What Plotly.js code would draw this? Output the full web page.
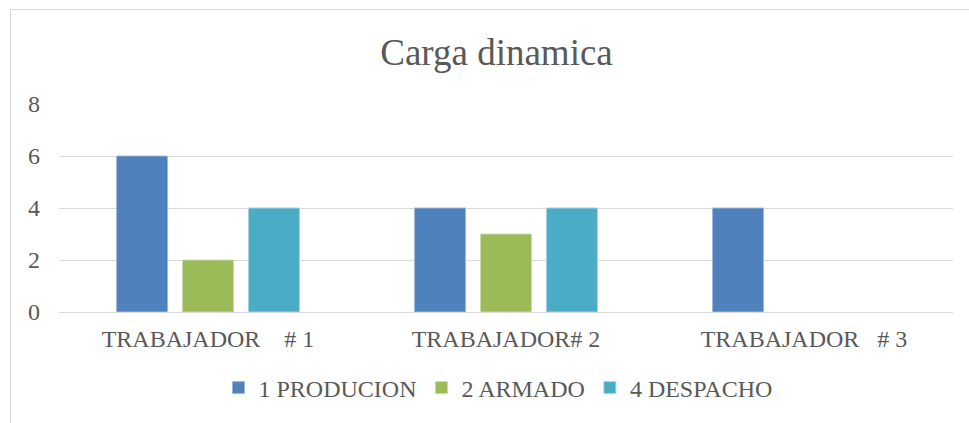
<!DOCTYPE html>
<html>
<head>
<meta charset="utf-8">
<script src="https://cdn.plot.ly/plotly-3.0.1.min.js"></script>
<style>html,body{margin:0;padding:0;background:#fff;}#chart{width:969px;height:423px;}</style>
</head>
<body>
<div id="chart"></div>
<script>
var categories = ["TRABAJADOR\u00a0\u00a0\u00a0\u00a0# 1", "TRABAJADOR# 2", "TRABAJADOR\u00a0\u00a0\u00a0# 3"];
var seriesNames = ["1 PRODUCION", "2 ARMADO", "4 DESPACHO"];
var produccion = [6, 4, 4];
var armado = [2, 3, null];
var despacho = [4, 4, null];
var yTicks = [0, 2, 4, 6, 8];
var colors = ["#4F81BD", "#9BBB59", "#4BACC6"];
var lineColors = ["#9FB8DA", "#CADBAA", "#A3D4E2"];

var allValues = [produccion, armado, despacho];
var traces = allValues.map(function (vals, i) {
  return {
    type: "bar",
    name: seriesNames[i],
    x: categories,
    y: vals,
    marker: { color: colors[i], line: { color: lineColors[i], width: 1 } },
    hoverinfo: "none"
  };
});

var W = 969, H = 423, L = 59, R = 16, T = 104, B = 111;
var pw = W - L - R, ph = H - T - B;
var FAM = "Liberation Serif";

var layout = {
  width: W, height: H,
  margin: { l: L, r: R, t: T, b: B, pad: 0 },
  paper_bgcolor: "#ffffff",
  plot_bgcolor: "#ffffff",
  font: { family: FAM, color: "#595959", size: 23 },
  title: {
    text: "Carga dinamica",
    font: { family: FAM, size: 37, color: "#595959" },
    x: (496.5 - L) / pw, xanchor: "center", xref: "paper",
    y: 1 - 52 / H, yanchor: "middle", yref: "container"
  },
  barmode: "group",
  bargap: 0.336,
  bargroupgap: 0.227,
  xaxis: {
    type: "category",
    showgrid: false,
    showline: false,
    zeroline: false,
    ticks: "",
    ticklabelstandoff: 10,
    tickfont: { family: FAM, size: 24, color: "#595959" }
  },
  yaxis: {
    range: [0, 8],
    tickvals: yTicks,
    ticktext: yTicks.map(String),
    showgrid: true,
    gridcolor: "#D9D9D9",
    gridwidth: 1,
    zeroline: true,
    zerolinecolor: "#D9D9D9",
    zerolinewidth: 1,
    showline: false,
    ticks: "",
    ticklabelstandoff: 18,
    tickfont: { family: FAM, size: 24, color: "#595959" }
  },
  showlegend: true,
  legend: {
    orientation: "h",
    x: 0.5 - 8 / pw, xanchor: "center",
    y: 1 - (388 - T) / ph, yanchor: "middle",
    font: { family: FAM, size: 24, color: "#595959" },
    itemwidth: 30,
    traceorder: "normal"
  },
  shapes: [
    { type: "line", xref: "paper", yref: "paper",
      x0: (10 - L) / pw, x1: (W + 20 - L) / pw, y0: 1 + (T - 9.5) / ph, y1: 1 + (T - 9.5) / ph,
      line: { color: "#D9D9D9", width: 1 } },
    { type: "line", xref: "paper", yref: "paper",
      x0: (10.5 - L) / pw, x1: (10.5 - L) / pw, y0: 1 + (T - 9.5) / ph, y1: -(B + 20) / ph,
      line: { color: "#D9D9D9", width: 1 } }
  ]
};

Plotly.newPlot("chart", traces, layout, { displayModeBar: false, staticPlot: true });
</script>
</body>
</html>
